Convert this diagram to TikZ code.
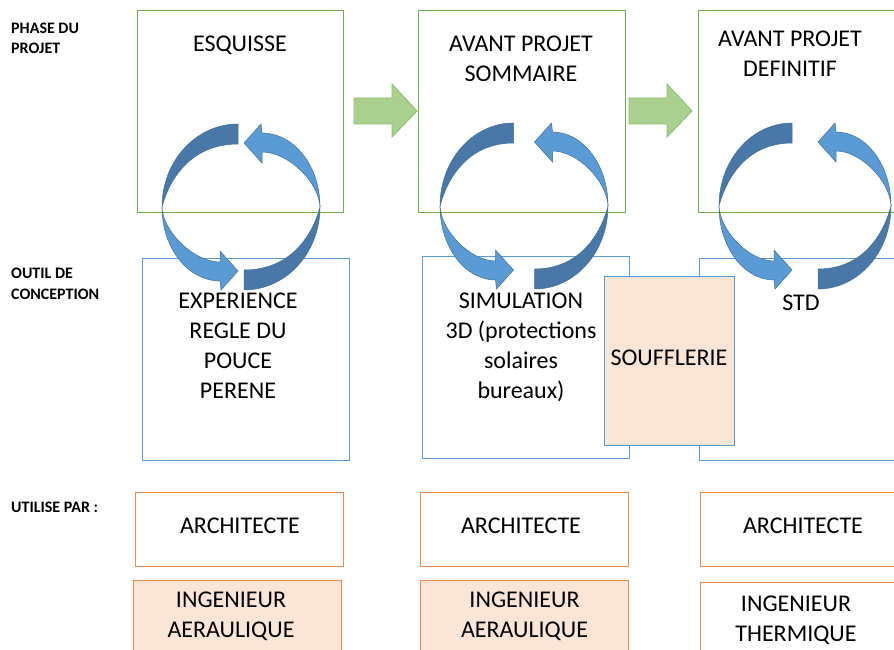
\documentclass[tikz,border=0pt]{standalone}
\usepackage{fontspec}
\setmainfont{Carlito}
\definecolor{gboxc}{HTML}{70AD47}
\definecolor{bboxc}{HTML}{5B9BD5}
\definecolor{oboxc}{HTML}{F08A4B}
\definecolor{peach}{HTML}{FBE5D6}
\definecolor{garrowf}{HTML}{AAD08F}
\definecolor{garrowd}{HTML}{8CC068}
\definecolor{loopl}{HTML}{5B9BD5}
\definecolor{loopd}{HTML}{4877A8}
\definecolor{loope}{HTML}{41719C}
\newcommand{\halfloop}[2]{%
  \pgfmathsetmacro{\hb}{#2-18}%
  \pgfmathsetmacro{\ca}{#2-0.552*(#1+#2)}%
  \pgfmathsetmacro{\ci}{#2-0.6*(#1+#2)}%
  \pgfmathsetmacro{\cb}{\hb-0.552*(\hb+#1)}%
  \pgfmathsetmacro{\cc}{\hb-0.45*(\hb+#1)}%
  \filldraw[loopdarkst] (#2,83) -- (#2,63) .. controls (\ci,63) and (-#1+8,30) .. (-#1,0) .. controls (-#1,46) and (\ca,83) .. (#2,83) -- cycle;
  \filldraw[looplightst] (-#1,0) .. controls (-#1+1,-25) and (\cc,-55) .. (\hb,-55) -- (\hb,-44) -- (#2,-64) -- (\hb+1,-83) -- (\hb,-74) .. controls (\cb,-74) and (-#1,-41) .. (-#1,0) -- cycle;
}
\begin{document}
\begin{tikzpicture}[x=1pt,y=-1pt,
  phasebox/.style={draw=gboxc, line width=1pt, anchor=north west, inner sep=0pt},
  toolbox/.style={draw=bboxc, line width=1pt, anchor=north west, inner sep=0pt},
  userbox/.style={draw=oboxc, line width=1pt, anchor=north west, inner sep=0pt},
  maintext/.style={font=\fontsize{24}{30}\selectfont, align=center, inner sep=0pt},
  sidelabel/.style={font=\bfseries\fontsize{16}{20.5}\selectfont, align=left, inner sep=0pt, anchor=north west},
  greenarrow/.style={fill=garrowf, draw=garrowd, line width=0.8pt},
  loopdarkst/.style={fill=loopd, draw=loope, line width=0.5pt},
  looplightst/.style={fill=loopl, draw=loope, line width=0.5pt}]
\clip (0,0) rectangle (894,650);
\fill[white] (0,0) rectangle (894,650);
% phase boxes
\node[phasebox, minimum width=206pt, minimum height=202pt] (p1) at (137,10) {};
\node[phasebox, minimum width=207pt, minimum height=202pt] (p2) at (418,10) {};
\node[phasebox, minimum width=206pt, minimum height=202pt] (p3) at (698,10) {};
% tool boxes
\node[toolbox, minimum width=207pt, minimum height=202pt] (t1) at (142,258) {};
\node[toolbox, minimum width=207pt, minimum height=202pt] (t2) at (422,256) {};
\node[toolbox, minimum width=206pt, minimum height=202pt] (t3) at (699,258) {};
\node[toolbox, fill=peach, minimum width=130pt, minimum height=169pt] (sf) at (604,276) {};
% user boxes
\node[userbox, minimum width=208pt, minimum height=74pt] (a1) at (135,492) {};
\node[userbox, minimum width=208pt, minimum height=74pt] (a2) at (420,492) {};
\node[userbox, minimum width=206pt, minimum height=74pt] (a3) at (700,492) {};
\node[userbox, fill=peach, minimum width=208pt, minimum height=100pt] (i1) at (133,580) {};
\node[userbox, fill=peach, minimum width=208pt, minimum height=100pt] (i2) at (420,580) {};
\node[userbox, minimum width=206pt, minimum height=100pt] (i3) at (700,582) {};
% side labels
\node[sidelabel] (l1) at (11,22.7) {PHASE DU\\PROJET};
\node[sidelabel] (l2) at (11,268) {OUTIL DE\\CONCEPTION};
\node[sidelabel] (l3) at (11,502) {UTILISE PAR :};
% texts
\node[maintext, anchor=north] (e1) at (240,36) {ESQUISSE};
\node[maintext, anchor=north] (e2) at (521,36) {AVANT PROJET\\SOMMAIRE};
\node[maintext, anchor=north] (e3) at (790,31) {AVANT PROJET\\DEFINITIF};
\node[maintext, anchor=north] (o1) at (238,293) {EXPERIENCE\\REGLE DU\\POUCE\\PERENE};
\node[maintext, anchor=north] (o2) at (521,293) {SIMULATION\\3D (protections\\solaires\\bureaux)};
\node[maintext, anchor=north] (o3) at (801,295) {STD};
\node[maintext] (sft) at (669,358) {SOUFFLERIE};
\node[maintext] (ar1) at (240,526) {ARCHITECTE};
\node[maintext] (ar2) at (521,526) {ARCHITECTE};
\node[maintext] (ar3) at (803,526) {ARCHITECTE};
\node[maintext, anchor=north] (ing1) at (231,592) {INGENIEUR\\AERAULIQUE};
\node[maintext, anchor=north] (ing2) at (524.5,592) {INGENIEUR\\AERAULIQUE};
\node[maintext, anchor=north] (ing3) at (796,596) {INGENIEUR\\THERMIQUE};
% green arrows
\filldraw[greenarrow] (354,98) -- (392,98) -- (392,84) -- (417,111) -- (392,137) -- (392,124) -- (354,124) -- cycle;
\filldraw[greenarrow] (629,98) -- (667,98) -- (667,84) -- (692,111) -- (667,137) -- (667,124) -- (629,124) -- cycle;
% cycle arrows
\begin{scope}[shift={(241,207)}, yscale=-1] \halfloop{79}{-3} \end{scope}
\begin{scope}[shift={(241,207)}, yscale=-1, rotate=180] \halfloop{79}{-3} \end{scope}
\begin{scope}[shift={(524,206)}, yscale=-1] \halfloop{84}{-10.5} \end{scope}
\begin{scope}[shift={(524,206)}, yscale=-1, rotate=180] \halfloop{84}{-10.5} \end{scope}
\begin{scope}[shift={(805,206)}, yscale=-1] \halfloop{86}{-13} \end{scope}
\begin{scope}[shift={(805,206)}, yscale=-1, rotate=180] \halfloop{86}{-13} \end{scope}
\end{tikzpicture}
\end{document}
